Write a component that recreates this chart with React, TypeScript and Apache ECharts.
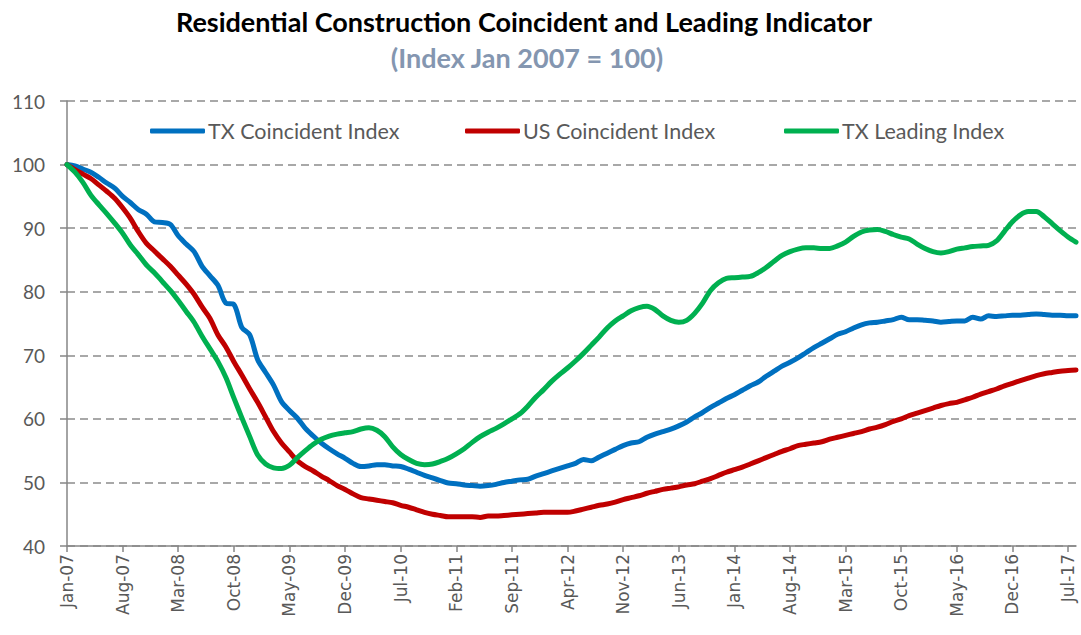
import React, { useEffect, useRef } from "react";
import * as echarts from "echarts";

const monthNames = ["Jan", "Feb", "Mar", "Apr", "May", "Jun", "Jul", "Aug", "Sep", "Oct", "Nov", "Dec"];
const startYear = 2007;
const monthCount = 128; // Jan-07 .. Aug-17
const categories: string[] = [];
for (let i = 0; i < monthCount; i++) {
  const y = startYear + Math.floor(i / 12);
  categories.push(monthNames[i % 12] + "-" + String(y).slice(2));
}

const seriesNames = ["TX Coincident Index", "US Coincident Index", "TX Leading Index"];

const txCoincident = [
  100, 99.8, 99.3, 98.8, 98.0, 97.1, 96.3, 95.0, 94.0, 92.9, 92.2, 91.0, 90.9, 90.6, 88.8, 87.5,
  86.3, 84.0, 82.5, 81.0, 78.2, 78.0, 74.4, 73.2, 69.3, 67.3, 65.3, 62.7, 61.3, 60.1, 58.5, 57.3,
  56.2, 55.3, 54.5, 53.8, 53.0, 52.5, 52.6, 52.8, 52.8, 52.6, 52.5, 52.1, 51.6, 51.1, 50.7, 50.3,
  49.9, 49.8, 49.6, 49.5, 49.4, 49.5, 49.7, 50.0, 50.2, 50.4, 50.5, 51.0, 51.4, 51.8, 52.2, 52.6,
  53.0, 53.6, 53.4, 54.0, 54.6, 55.2, 55.8, 56.2, 56.4, 57.1, 57.6, 58.0, 58.4, 58.9, 59.5, 60.3,
  61.0, 61.8, 62.5, 63.2, 63.8, 64.5, 65.2, 65.8, 66.7, 67.5, 68.3, 68.9, 69.6, 70.4, 71.2, 71.9,
  72.6, 73.3, 73.7, 74.3, 74.8, 75.1, 75.2, 75.4, 75.6, 76.0, 75.6, 75.6, 75.5, 75.4, 75.2, 75.3,
  75.4, 75.4, 76.0, 75.7, 76.2, 76.1, 76.2, 76.3, 76.3, 76.4, 76.5, 76.4, 76.3, 76.3, 76.2, 76.2,
];

const usCoincident = [
  100, 99.2, 98.5, 97.8, 96.8, 95.8, 94.7, 93.2, 91.5, 89.4, 87.6, 86.4, 85.2, 84.0, 82.6, 81.2,
  79.6, 77.6, 75.8, 73.2, 71.3, 69.0, 66.9, 64.7, 62.6, 60.3, 58.0, 56.2, 54.8, 53.4, 52.5, 51.8,
  51.0, 50.3, 49.5, 48.9, 48.2, 47.6, 47.4, 47.2, 47.0, 46.8, 46.4, 46.1, 45.7, 45.3, 45.0, 44.8,
  44.6, 44.6, 44.6, 44.6, 44.5, 44.7, 44.7, 44.8, 44.9, 45.0, 45.1, 45.2, 45.3, 45.3, 45.3, 45.3,
  45.5, 45.8, 46.1, 46.4, 46.6, 46.9, 47.3, 47.6, 47.9, 48.3, 48.6, 48.9, 49.1, 49.3, 49.6, 49.8,
  50.2, 50.6, 51.1, 51.6, 52.0, 52.4, 52.9, 53.4, 53.9, 54.4, 54.9, 55.3, 55.8, 56.0, 56.2, 56.4,
  56.8, 57.1, 57.4, 57.7, 58.0, 58.4, 58.7, 59.1, 59.6, 60.0, 60.5, 60.9, 61.3, 61.7, 62.1, 62.4,
  62.6, 63.0, 63.4, 63.9, 64.3, 64.7, 65.2, 65.6, 66.0, 66.4, 66.8, 67.1, 67.3, 67.5, 67.6, 67.7,
];

const txLeading = [
  100, 98.8, 97.2, 95.2, 93.7, 92.3, 90.8, 89.2, 87.3, 85.8, 84.2, 83.0, 81.6, 80.2, 78.6, 76.9,
  75.2, 73.0, 71.0, 69.0, 66.5, 63.3, 60.2, 57.2, 54.3, 52.9, 52.3, 52.2, 52.7, 53.9, 55.0, 56.0,
  56.8, 57.3, 57.6, 57.8, 58.0, 58.4, 58.6, 58.2, 57.2, 55.6, 54.4, 53.6, 53.0, 52.8, 52.9, 53.3,
  53.8, 54.5, 55.3, 56.3, 57.2, 57.9, 58.5, 59.2, 60.0, 60.8, 62.0, 63.4, 64.6, 65.9, 67.0, 68.0,
  69.1, 70.3, 71.6, 72.9, 74.3, 75.4, 76.2, 77.0, 77.5, 77.7, 77.2, 76.2, 75.5, 75.2, 75.5, 76.6,
  78.2, 80.2, 81.4, 82.1, 82.2, 82.3, 82.4, 83.0, 83.8, 84.8, 85.7, 86.3, 86.7, 86.9, 86.9, 86.8,
  86.8, 87.2, 87.8, 88.7, 89.4, 89.7, 89.8, 89.5, 89.0, 88.6, 88.3, 87.5, 86.8, 86.3, 86.1, 86.3,
  86.7, 86.9, 87.1, 87.2, 87.3, 88.0, 89.5, 91.0, 92.1, 92.6, 92.6, 91.8, 90.7, 89.6, 88.6, 87.8,
];

const colors = ["#0070C0", "#C00000", "#00B050"];
const legendLefts = [145, 460, 779];
const titleText = "Residential Construction Coincident and Leading Indicator";
const subtitleText = "(Index Jan 2007 = 100)";

export default function App() {
  const ref = useRef<HTMLDivElement>(null);
  useEffect(() => {
    if (!ref.current) return;
    const chart = echarts.init(ref.current, null, { renderer: "svg" });
    const dataSets = [txCoincident, usCoincident, txLeading];
    chart.setOption({
      animation: false,
      backgroundColor: "#ffffff",
      graphic: [
        {
          type: "text",
          x: 524,
          y: 21,
          style: {
            text: titleText,
            font: "bold 27px Lato",
            fill: "#000000",
            textAlign: "center",
            textVerticalAlign: "middle",
          },
        },
        {
          type: "text",
          x: 527,
          y: 57,
          style: {
            text: subtitleText,
            font: "bold 27px Lato",
            fill: "#8496B0",
            textAlign: "center",
            textVerticalAlign: "middle",
          },
        },
      ],
      legend: seriesNames.map((n, i) => ({
        data: [n],
        left: legendLefts[i],
        top: 115,
        icon: "roundRect",
        itemWidth: 55,
        itemHeight: 5,
        textStyle: { fontFamily: "Lato", fontSize: 21.5, color: "#595959", padding: [0, 0, 0, -2] },
        selectedMode: false,
      })),
      grid: { left: 67, right: 5, top: 101, bottom: 89, outerBoundsMode: "none" },
      xAxis: {
        type: "category",
        data: categories,
        boundaryGap: false,
        axisLine: { show: true, lineStyle: { color: "#868686", width: 1.5 } },
        axisTick: { show: true, interval: 6, length: 6, lineStyle: { color: "#868686", width: 1.5 } },
        axisLabel: {
          interval: 6,
          rotate: 90,
          margin: 8,
          fontFamily: "DejaVu Sans",
          fontSize: 17,
          color: "#595959",
        },
        splitLine: { show: false },
      },
      yAxis: {
        type: "value",
        min: 40,
        max: 110,
        interval: 10,
        axisLine: { show: true, lineStyle: { color: "#868686", width: 1.5 } },
        axisTick: { show: true, length: 7, lineStyle: { color: "#868686", width: 1.5 } },
        axisLabel: { margin: 22, fontFamily: "Lato", fontSize: 19, color: "#595959" },
        splitLine: { show: true, lineStyle: { color: "#8C8C8C", width: 1.5, type: [8, 5] } },
      },
      series: seriesNames.map((n, i) => ({
        name: n,
        type: "line",
        data: dataSets[i],
        symbol: "none",
        smooth: 0.3,
        color: colors[i],
        lineStyle: { width: 5, color: colors[i], cap: "round", join: "round" },
      })),
    });
    return () => chart.dispose();
  }, []);
  return <div ref={ref} style={{ position: "fixed", left: 0, top: 0, width: 1081, height: 635 }} />;
}
